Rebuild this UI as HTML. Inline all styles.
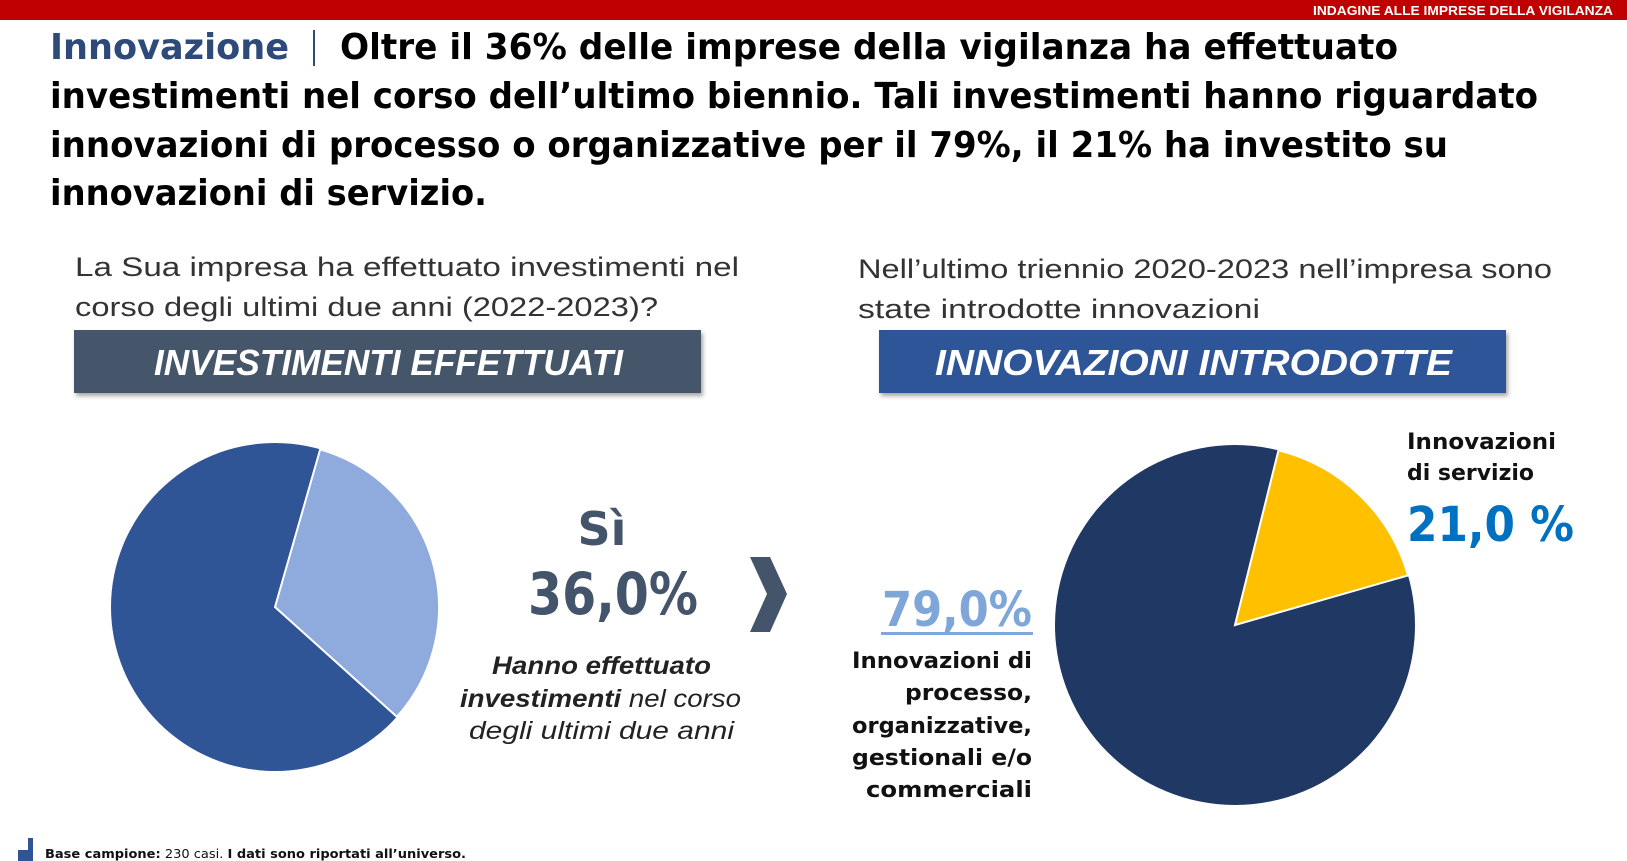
<!DOCTYPE html>
<html><head><meta charset="utf-8"><style>
html,body{margin:0;padding:0;background:#fff;}
svg{display:block;}
</style></head><body>
<svg width="1627" height="861" viewBox="0 0 1627 861" xmlns="http://www.w3.org/2000/svg">
<defs>
<filter id="sh" x="-5%" y="-20%" width="110%" height="150%"><feDropShadow dx="2" dy="3" stdDeviation="2" flood-color="#000" flood-opacity="0.35"/></filter>
</defs>
<rect x="0" y="0" width="1627" height="20" fill="#c00000"/>
<text x="1613" y="15" text-anchor="end" font-family="Liberation Sans, sans-serif" font-weight="bold" font-size="13" fill="#fff" textLength="300" lengthAdjust="spacingAndGlyphs">INDAGINE ALLE IMPRESE DELLA VIGILANZA</text>

<g font-family="DejaVu Sans, sans-serif" font-weight="bold" font-size="36" fill="#000">
<text x="50" y="59" fill="#2e4a7a" textLength="239" lengthAdjust="spacingAndGlyphs">Innovazione</text>
<rect x="313" y="30" width="2" height="36" fill="#2e4a7a"/>
<text x="340" y="59" textLength="1058" lengthAdjust="spacingAndGlyphs">Oltre il 36% delle imprese della vigilanza ha effettuato</text>
<text x="50" y="108" textLength="1488" lengthAdjust="spacingAndGlyphs">investimenti nel corso dell’ultimo biennio. Tali investimenti hanno riguardato</text>
<text x="50" y="157" textLength="1398" lengthAdjust="spacingAndGlyphs">innovazioni di processo o organizzative per il 79%, il 21% ha investito su</text>
<text x="50" y="205" textLength="437" lengthAdjust="spacingAndGlyphs">innovazioni di servizio.</text>
</g>

<g font-family="Liberation Sans, sans-serif" font-size="27" fill="#333">
<text x="75" y="276" textLength="664" lengthAdjust="spacingAndGlyphs">La Sua impresa ha effettuato investimenti nel</text>
<text x="75" y="316" textLength="583" lengthAdjust="spacingAndGlyphs">corso degli ultimi due anni (2022-2023)?</text>
<text x="858" y="278" textLength="694" lengthAdjust="spacingAndGlyphs">Nell’ultimo triennio 2020-2023 nell’impresa sono</text>
<text x="858" y="318" textLength="402" lengthAdjust="spacingAndGlyphs">state introdotte innovazioni</text>
</g>

<rect x="74" y="330" width="627" height="63" fill="#44546a" filter="url(#sh)"/>
<rect x="879" y="330" width="627" height="63" fill="#2f5597" filter="url(#sh)"/>
<g font-family="Liberation Sans, sans-serif" font-weight="bold" font-style="italic" font-size="36" fill="#fff">
<text x="154" y="375" textLength="469" lengthAdjust="spacingAndGlyphs">INVESTIMENTI EFFETTUATI</text>
<text x="935" y="375" textLength="517" lengthAdjust="spacingAndGlyphs">INNOVAZIONI INTRODOTTE</text>
</g>

<!-- left pie -->
<circle cx="275" cy="607" r="164" fill="#2f5597"/>
<path d="M275,607 L320.2,449.4 A164,164 0 0 1 396.9,716.8 Z" fill="#8faadc" stroke="#fff" stroke-width="2"/>

<!-- right pie -->
<circle cx="1235" cy="625" r="180" fill="#203864"/>
<path d="M1235,625 L1278.5,450.3 A180,180 0 0 1 1408,575.4 Z" fill="#ffc000" stroke="#fff" stroke-width="2"/>

<g font-family="DejaVu Sans, sans-serif" font-weight="bold" fill="#44546a" text-anchor="middle">
<text x="602" y="545" font-size="46">Sì</text>
<text x="613" y="614" font-size="58" textLength="170" lengthAdjust="spacingAndGlyphs">36,0%</text>
</g>
<path d="M750,557 L770,557 L787,594 L770,632 L750,632 L767,594 Z" fill="#44546a"/>

<g font-family="Liberation Sans, sans-serif" font-style="italic" font-size="25" fill="#222">
<text x="492" y="674" font-weight="bold" textLength="219" lengthAdjust="spacingAndGlyphs">Hanno effettuato</text>
<text x="460" y="707" textLength="281" lengthAdjust="spacingAndGlyphs"><tspan font-weight="bold">investimenti</tspan> nel corso</text>
<text x="469" y="739" textLength="265" lengthAdjust="spacingAndGlyphs">degli ultimi due anni</text>
</g>

<text x="1032" y="626" text-anchor="end" font-family="DejaVu Sans, sans-serif" font-weight="bold" font-size="48" fill="#7fa6d8" textLength="150" lengthAdjust="spacingAndGlyphs">79,0%</text>
<rect x="881" y="632" width="152" height="3" fill="#7fa6d8"/>
<g font-family="DejaVu Sans, sans-serif" font-weight="bold" font-size="22" fill="#111" text-anchor="end">
<text x="1032" y="668" textLength="180" lengthAdjust="spacingAndGlyphs">Innovazioni di</text>
<text x="1032" y="700" textLength="127" lengthAdjust="spacingAndGlyphs">processo,</text>
<text x="1032" y="733" textLength="180" lengthAdjust="spacingAndGlyphs">organizzative,</text>
<text x="1032" y="765" textLength="180" lengthAdjust="spacingAndGlyphs">gestionali e/o</text>
<text x="1032" y="797" textLength="166" lengthAdjust="spacingAndGlyphs">commerciali</text>
</g>
<g font-family="DejaVu Sans, sans-serif" font-weight="bold" fill="#111">
<text x="1407" y="449" font-size="22" textLength="149" lengthAdjust="spacingAndGlyphs">Innovazioni</text>
<text x="1407" y="480" font-size="22" textLength="127" lengthAdjust="spacingAndGlyphs">di servizio</text>
<text x="1407" y="541" font-size="48" fill="#0070c0" textLength="167" lengthAdjust="spacingAndGlyphs">21,0 %</text>
</g>

<rect x="28" y="838" width="5" height="23" fill="#2f5597"/>
<rect x="18" y="850" width="15" height="11" fill="#2f5597"/>
<text x="45" y="858" font-family="DejaVu Sans, sans-serif" font-size="12" fill="#111" textLength="421" lengthAdjust="spacingAndGlyphs"><tspan font-weight="bold">Base campione:</tspan> 230 casi. <tspan font-weight="bold">I dati sono riportati all’universo.</tspan></text>
</svg>
</body></html>
